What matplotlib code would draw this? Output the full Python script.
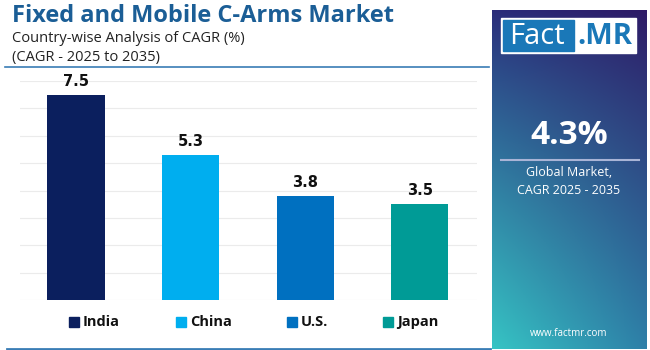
import matplotlib
matplotlib.use("Agg")
import matplotlib.pyplot as plt
import numpy as np
from matplotlib.patches import Rectangle

countries = ["India", "China", "U.S.", "Japan"]
cagr = [7.5, 5.3, 3.8, 3.5]
colors = ["#0B1F5E", "#00AEEF", "#0070C0", "#009B96"]
title = "Fixed and Mobile C-Arms Market"
subtitle1 = "Country-wise Analysis of CAGR (%)"
subtitle2 = "(CAGR - 2025 to 2035)"
global_value = "4.3%"
global_label = "Global Market,\nCAGR 2025 - 2035"
website = "www.factmr.com"

W, H = 650, 350
fig = plt.figure(figsize=(W / 100, H / 100), dpi=100)
fig.patch.set_facecolor("white")
FONT = "Open Sans"

def fx(px):
    return px / W

def fy(py):
    return 1 - py / H

# Bar axes
ax = fig.add_axes([fx(20), fy(300), fx(477) - fx(20), fy(81) - fy(300)])
x = np.arange(len(countries))
bars = ax.bar(x, cagr, width=0.5, color=colors, zorder=3)
ax.set_ylim(0, 8)
ax.set_xlim(-0.49, 3.5)
ax.set_yticks(np.arange(0, 9, 1))
ax.yaxis.grid(True, color="#EBEBEB", linewidth=0.8, zorder=0)
ax.set_xticks([])
ax.tick_params(axis="y", length=0, labelleft=False)
for s in ax.spines.values():
    s.set_visible(False)
for xi, v in zip(x, cagr):
    ax.text(xi, v + 0.5, f"{v:.1f}", ha="center", va="center", fontsize=10.5,
            fontweight="bold", color="#111111", family="DejaVu Sans")

# Titles
fig.text(fx(12), fy(16), title, fontsize=17, fontweight="bold", color="#1B5E96",
         ha="left", va="center", family=FONT)
fig.text(fx(12), fy(38), subtitle1, fontsize=10.5, color="#222222", ha="left", va="center", family=FONT)
fig.text(fx(12), fy(57), subtitle2, fontsize=10.5, color="#222222", ha="left", va="center", family=FONT)
fig.add_artist(plt.Line2D([fx(5), fx(489)], [fy(67), fy(67)], color="#3A7DB5", linewidth=1.2))
fig.add_artist(plt.Line2D([fx(7), fx(490)], [fy(348.5), fy(348.5)], color="#3A7DB5", linewidth=2))

# Legend
leg_sq = [69, 176, 287, 383]
for px, name, c in zip(leg_sq, countries, colors):
    fig.add_artist(Rectangle((fx(px), fy(327)), fx(10), fy(317) - fy(327), color=c))
    fig.text(fx(px + 14), fy(322), name, fontsize=10.5, fontweight="bold", color="#111111",
             ha="left", va="center", family=FONT)

# Right gradient panel
pax = fig.add_axes([fx(492), fy(349), fx(647) - fx(492), fy(10) - fy(349)])
tl = np.array([0x2A, 0x2C, 0x7A]) / 255
tr = np.array([0x2E, 0x1A, 0x66]) / 255
bl = np.array([0x36, 0xC4, 0xC4]) / 255
br = np.array([0x2E, 0x80, 0xA8]) / 255
u = np.linspace(0, 1, 60)[None, :, None]
v = np.linspace(0, 1, 200)[:, None, None]
vv = v ** 0.9
img = (1 - vv) * ((1 - u) * tl + u * tr) + vv * ((1 - u) * bl + u * br)
pax.imshow(img, aspect="auto", extent=[0, 1, 0, 1], origin="upper")
pax.set_xlim(0, 1)
pax.set_ylim(0, 1)
pax.axis("off")

# Logo
fig.add_artist(Rectangle((fx(501), fy(53)), fx(636) - fx(501), fy(18) - fy(53), color="white"))
fig.add_artist(Rectangle((fx(503), fy(51)), fx(574) - fx(503), fy(20) - fy(51), color="#1A78B8"))
fig.text(fx(537), fy(36), "Fact", fontsize=21, color="white", ha="center", va="center", family=FONT)
fig.text(fx(605), fy(36), ".MR", fontsize=21, fontweight="bold", color="#1A78B8",
         ha="center", va="center", family=FONT)

fig.text(fx(569), fy(135), global_value, fontsize=24, fontweight="bold", color="white",
         ha="center", va="center", family=FONT)
fig.add_artist(plt.Line2D([fx(501), fx(639)], [fy(160), fy(160)], color="#A9B4D6", linewidth=1.5))
fig.text(fx(569), fy(181), global_label, fontsize=9, color="white", ha="center", va="center",
         family=FONT, linespacing=1.5)
fig.text(fx(569), fy(333), website, fontsize=7, color="white", ha="center", va="center", family=FONT)

fig.savefig("out.png", dpi=100, facecolor=fig.get_facecolor())
